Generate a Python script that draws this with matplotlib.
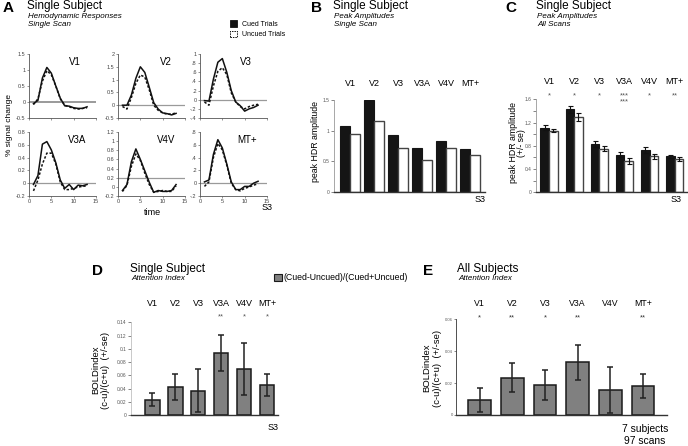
import numpy as np
import matplotlib
matplotlib.use('Agg')
import matplotlib.pyplot as plt
from matplotlib.patches import Rectangle
from matplotlib import transforms

plt.rcParams['font.family'] = ['Liberation Sans', 'DejaVu Sans']

W, H = 688, 446

# ---- data ----
t = np.arange(1, 14)
v1_cued = [-0.05, 0.05, 0.75, 1.08, 0.9, 0.5, 0.12, -0.12, -0.13, -0.18, -0.2, -0.2, -0.15]
v1_uncued = [-0.08, 0.1, 0.65, 0.98, 0.85, 0.5, 0.1, -0.1, -0.15, -0.2, -0.22, -0.2, -0.18]
v2_cued = [0.0, 0.0, 0.4, 1.05, 1.5, 1.28, 0.7, 0.1, -0.15, -0.3, -0.33, -0.38, -0.32]
v2_uncued = [-0.05, -0.15, 0.3, 0.85, 1.18, 1.1, 0.6, 0.0, -0.2, -0.3, -0.35, -0.35, -0.3]
v3_cued = [-0.02, -0.03, 0.45, 0.82, 0.9, 0.6, 0.2, -0.05, -0.13, -0.25, -0.2, -0.17, -0.12]
v3_uncued = [-0.05, -0.12, 0.3, 0.62, 0.7, 0.55, 0.15, -0.05, -0.15, -0.2, -0.15, -0.12, -0.1]
v3a_cued = [-0.02, 0.12, 0.61, 0.65, 0.52, 0.32, 0.05, -0.08, -0.02, -0.1, -0.03, -0.04, -0.02]
v3a_uncued = [-0.12, 0.05, 0.3, 0.47, 0.47, 0.3, 0.02, -0.1, -0.1, -0.08, -0.06, -0.05, -0.04]
v4v_cued = [-0.08, 0.05, 0.55, 0.83, 0.6, 0.35, 0.1, -0.12, -0.08, -0.1, -0.1, -0.08, 0.05]
v4v_uncued = [-0.1, 0.03, 0.45, 0.72, 0.58, 0.3, 0.05, -0.12, -0.1, -0.08, -0.1, -0.1, 0.02]
mt_cued = [0.02, 0.05, 0.45, 0.68, 0.55, 0.3, 0.02, -0.1, -0.1, -0.05, -0.05, 0.0, 0.03]
mt_uncued = [-0.05, 0.02, 0.4, 0.62, 0.52, 0.28, 0.0, -0.1, -0.12, -0.08, -0.06, -0.03, -0.01]

areas = ['V1', 'V2', 'V3', 'V3A', 'V4V', 'MT+']

# B: peak amplitudes, single scan
peak_cued_scan = [1.08, 1.5, 0.93, 0.71, 0.83, 0.70]
peak_uncued_scan = [0.95, 1.16, 0.71, 0.52, 0.71, 0.60]

# C: peak amplitudes, all scans
peak_cued_all = [1.11, 1.43, 0.83, 0.65, 0.73, 0.62]
peak_cued_se = [0.04, 0.06, 0.05, 0.05, 0.05, 0.03]
peak_uncued_all = [1.06, 1.30, 0.75, 0.54, 0.62, 0.57]
peak_uncued_se = [0.03, 0.07, 0.04, 0.05, 0.04, 0.03]
stars_c = ['*', '*', '*', '***\n***', '*', '**']

# D: attention index, single subject
index_single = [0.023, 0.042, 0.037, 0.094, 0.069, 0.045]
index_single_se = [0.010, 0.020, 0.033, 0.027, 0.039, 0.017]
stars_d = ['', '', '', '**', '*', '*']

# E: attention index, all subjects
index_all = [0.0095, 0.0235, 0.0186, 0.033, 0.0157, 0.0182]
index_all_se = [0.0077, 0.009, 0.0093, 0.011, 0.0142, 0.0078]
stars_e = ['*', '**', '*', '**', '', '**']


fig = plt.figure(figsize=(W / 100, H / 100), dpi=100)


def rect(x0, y0, x1, y1):
    return [x0 / W, 1 - y1 / H, (x1 - x0) / W, (y1 - y0) / H]


def ftxt(x, y, s, **kw):
    kw.setdefault('va', 'center')
    kw.setdefault('ha', 'left')
    fig.text(x / W, 1 - y / H, s, **kw)


def header(x, y, letter, title, subs, lx):
    ftxt(lx, y + 2, letter, fontsize=11, fontweight='bold')
    ftxt(x, y, title, fontsize=8.5)
    for k, s in enumerate(subs):
        ftxt(x + 1, y + 10 + 8 * k, s, fontsize=5.8, style='italic')


def style_bar_axes(ax, left_col='#999999', tsize=3.5):
    for s in ['top', 'right']:
        ax.spines[s].set_visible(False)
    ax.spines['left'].set_color(left_col)
    ax.spines['left'].set_linewidth(0.6)
    ax.spines['bottom'].set_color('#333333')
    ax.spines['bottom'].set_linewidth(1.0)
    ax.tick_params(axis='y', labelsize=tsize, length=2, width=0.5, pad=1, colors='#555555')
    ax.set_xticks([])


def top_labels(ax, y, labels, size=6.5, color='black'):
    tr = transforms.blended_transform_factory(ax.transData, fig.transFigure)
    for i, lab in enumerate(labels):
        ax.text(i, 1 - y / H, lab, transform=tr, ha='center', va='center',
                fontsize=size, color=color, clip_on=False, linespacing=0.8)


# ---- panel A ----
header(27, 6, 'A', 'Single Subject', ['Hemodynamic Responses', 'Single Scan'], 3)
fig.patches.append(Rectangle((230 / W, 1 - 27 / H), 7 / W, 7 / H, transform=fig.transFigure,
                             facecolor='#111111', edgecolor='#111111', lw=0.6))
fig.patches.append(Rectangle((230 / W, 1 - 37 / H), 7 / W, 6 / H, transform=fig.transFigure,
                             facecolor='white', edgecolor='#111111', lw=0.7, ls=(0, (1.5, 1))))
ftxt(242, 24, 'Cued Trials', fontsize=5)
ftxt(242, 34, 'Uncued Trials', fontsize=5)

curves = [(v1_cued, v1_uncued), (v2_cued, v2_uncued), (v3_cued, v3_uncued),
          (v3a_cued, v3a_uncued), (v4v_cued, v4v_uncued), (mt_cued, mt_uncued)]
cols = [(29, 96), (118, 185), (200, 267)]
rows = [(54, 118), (132, 196)]
ylims = [(-0.5, 1.5), (-0.5, 2), (-0.4, 1), (-0.2, 0.8), (-0.2, 1.2), (-0.2, 0.8)]
yticks = [[-0.5, 0, 0.5, 1, 1.5], [-0.5, 0, 0.5, 1, 1.5, 2],
          [-0.4, -0.2, 0, 0.2, 0.4, 0.6, 0.8, 1], [-0.2, 0, 0.2, 0.4, 0.6, 0.8],
          [-0.2, 0, 0.2, 0.4, 0.6, 0.8, 1, 1.2], [-0.2, 0, 0.2, 0.4, 0.6, 0.8]]
ylabs = [['-0.5', '0', '0.5', '1', '1.5'], ['-0.5', '0', '0.5', '1', '1.5', '2'],
         ['-.4', '-.2', '0', '.2', '.4', '.6', '.8', '1'], ['-0.2', '0', '0.2', '0.4', '0.6', '0.8'],
         ['-0.2', '0', '0.2', '0.4', '0.6', '0.8', '1', '1.2'], ['-.2', '0', '.2', '.4', '.6', '.8']]
reflines = [0, 0, 0, 0, 0.2, 0]
label_x = [0.68, 0.72, 0.68, 0.72, 0.72, 0.7]

for k in range(6):
    r, c = divmod(k, 3)
    ax = fig.add_axes(rect(cols[c][0], rows[r][0], cols[c][1], rows[r][1]))
    cued, uncued = curves[k]
    ax.axhline(reflines[k], color='#9a9a9a', lw=0.9 if k else 1.4, zorder=1)
    ax.plot(t, cued, color='#111111', lw=1.1, zorder=3)
    ax.plot(t, uncued, color='#111111', lw=1.1, ls=(0, (1.6, 1.2)), zorder=2)
    ax.set_xlim(0, 15)
    ax.set_ylim(*ylims[k])
    ax.set_yticks(yticks[k])
    ax.set_yticklabels(ylabs[k])
    ax.set_xticks([0, 5, 10, 15])
    for s in ['top', 'right']:
        ax.spines[s].set_visible(False)
    for s in ['left', 'bottom']:
        ax.spines[s].set_linewidth(0.6)
        ax.spines[s].set_color('#555555')
    ax.tick_params(labelsize=4, length=1.5, width=0.4, pad=1, colors='#444444')
    if r == 0:
        ax.set_xticklabels([])
    ax.text(label_x[k], 0.88, areas[k], transform=ax.transAxes, fontsize=7,
            ha='center', va='center')

ftxt(10, 125, '% signal change', fontsize=6, rotation=90, ha='center')
ftxt(152, 213, 'time', fontsize=6.5, ha='center')
ftxt(267, 208, 'S3', fontsize=6.5, ha='center')

x6 = np.arange(6)

# ---- panel B ----
header(333, 6, 'B', 'Single Subject', ['Peak Amplitudes', 'Single Scan'], 311)
axb = fig.add_axes(rect(334, 100, 485, 192))
wb = 0.42
axb.bar(x6 - wb / 2, peak_cued_scan, wb, color='#151515', edgecolor='#151515', lw=0.8)
axb.bar(x6 + wb / 2, peak_uncued_scan, wb, color='white', edgecolor='#444444', lw=1.0)
axb.set_xlim(-0.667, 5.625)
axb.set_ylim(0, 1.5)
axb.set_yticks([0, 0.5, 1, 1.5])
axb.set_yticklabels(['0', '0.5', '1', '1.5'])
style_bar_axes(axb)
top_labels(axb, 83, areas)
ftxt(316, 142, 'peak HDR amplitude', fontsize=6.3, rotation=90, ha='center')
ftxt(480, 200, 'S3', fontsize=6.5, ha='center')

# ---- panel C ----
header(536, 6, 'C', 'Single Subject', ['Peak Amplitudes', 'All Scans'], 505)
axc = fig.add_axes(rect(536, 99.3, 688, 192.3))
wc = 0.34
ekw = dict(ecolor='#111111', elinewidth=0.8, capsize=1.8, capthick=0.8)
axc.bar(x6 - wc / 2, peak_cued_all, wc, yerr=peak_cued_se, color='#151515',
        edgecolor='#151515', lw=0.8, error_kw=ekw)
axc.bar(x6 + wc / 2, peak_uncued_all, wc, yerr=peak_uncued_se, color='white',
        edgecolor='#444444', lw=1.0, error_kw=ekw)
axc.set_xlim(-0.516, 5.53)
axc.set_ylim(0, 1.6)
axc.set_yticks(np.arange(0, 1.61, 0.2))
axc.set_yticklabels(['0', '', '0.4', '', '0.8', '', '1.2', '', '1.6'])
style_bar_axes(axc)
top_labels(axc, 82, areas)
tr = transforms.blended_transform_factory(axc.transData, fig.transFigure)
for i, s in enumerate(stars_c):
    axc.text(i, 1 - 92 / H, s, transform=tr, ha='center', va='top', fontsize=5.5,
             color='#555555', clip_on=False, linespacing=0.9)
ftxt(513, 143, 'peak HDR amplitude', fontsize=6.3, rotation=90, ha='center')
ftxt(521, 143, '(+/- se)', fontsize=6.3, rotation=90, ha='center')
ftxt(676, 200, 'S3', fontsize=6.5, ha='center')

# ---- panel D ----
header(130, 269, 'D', 'Single Subject', ['Attention Index'], 92)
axd = fig.add_axes(rect(130.7, 322.3, 278, 415))
ekw2 = dict(ecolor='#222222', elinewidth=1.1, capsize=2.5, capthick=1.1)
axd.bar(x6, index_single, 0.65, yerr=index_single_se, color='#808080',
        edgecolor='#1a1a1a', lw=1.1, error_kw=ekw2)
axd.set_xlim(-0.93, 5.48)
axd.set_ylim(0, 0.14)
axd.set_yticks(np.arange(0, 0.141, 0.02))
axd.set_yticklabels(['0', '0.02', '0.04', '0.06', '0.08', '0.1', '0.12', '0.14'])
style_bar_axes(axd, left_col='#c0c0c0')
top_labels(axd, 303, areas)
tr = transforms.blended_transform_factory(axd.transData, fig.transFigure)
for i, s in enumerate(stars_d):
    axd.text(i, 1 - 317 / H, s, transform=tr, ha='center', va='center', fontsize=5.5,
             color='#555555', clip_on=False)
fig.patches.append(Rectangle((274 / W, 1 - 281 / H), 8 / W, 7 / H, transform=fig.transFigure,
                             facecolor='#808080', edgecolor='#1a1a1a', lw=0.8))
ftxt(283, 278, '(Cued-Uncued)/(Cued+Uncued)', fontsize=6.3)
ftxt(96, 370, 'BOLDindex', fontsize=6.8, rotation=90, ha='center')
ftxt(106, 370, '(c-u)/(c+u)  (+/-se)', fontsize=6.8, rotation=90, ha='center')
ftxt(273, 427, 'S3', fontsize=6.5, ha='center')

# ---- panel E ----
header(457, 269, 'E', 'All Subjects', ['Attention Index'], 423)
axe = fig.add_axes(rect(456, 319.3, 667, 415))
axe.bar(x6, index_all, 0.69, yerr=index_all_se, color='#808080',
        edgecolor='#1a1a1a', lw=1.1, error_kw=ekw2)
axe.set_xlim(-0.72, 5.73)
axe.set_ylim(0, 0.06)
axe.set_yticks([0, 0.02, 0.04, 0.06])
axe.set_yticklabels(['0', '0.02', '0.04', '0.06'])
style_bar_axes(axe, left_col='#333333', tsize=3)
axe.tick_params(axis='y', pad=0.5, length=1.5)
top_labels(axe, 303, areas, size=6.3)
tr = transforms.blended_transform_factory(axe.transData, fig.transFigure)
for i, s in enumerate(stars_e):
    axe.text(i, 1 - 318 / H, s, transform=tr, ha='center', va='center', fontsize=5.5,
             color='#333333', clip_on=False)
ftxt(427, 368, 'BOLDindex', fontsize=6.8, rotation=90, ha='center')
ftxt(437, 368, '(c-u)/(c+u)  (+/-se)', fontsize=6.8, rotation=90, ha='center')
ftxt(622, 429, '7 subjects', fontsize=7.4)
ftxt(624, 441, '97 scans', fontsize=7.4)

fig.savefig('out.png', dpi=100)
